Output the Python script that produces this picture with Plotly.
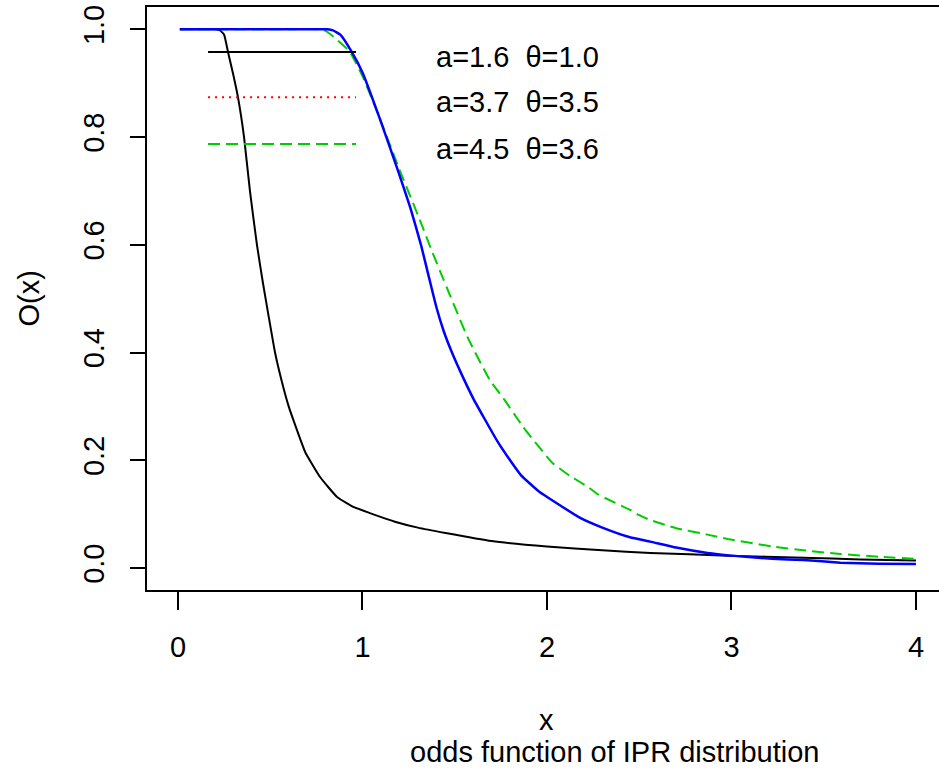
import plotly.graph_objects as go

# ---- data ----
black_x = [0.01, 0.1, 0.2, 0.228, 0.25, 0.271, 0.3, 0.325, 0.358, 0.39, 0.428, 0.46, 0.49, 0.526, 0.56,
           0.6, 0.645, 0.69, 0.77, 0.862, 0.954, 1.04, 1.176, 1.3, 1.45, 1.7, 2.0, 2.3, 2.56, 2.98, 3.39, 3.7, 4.0]
black_y = [1.0, 1.0, 1.0, 0.998, 0.99, 0.958, 0.915, 0.874, 0.80, 0.70, 0.60, 0.53, 0.47, 0.40, 0.35,
           0.30, 0.256, 0.215, 0.169, 0.132, 0.113, 0.102, 0.086, 0.075, 0.065, 0.05, 0.04, 0.033, 0.028, 0.023, 0.019, 0.016, 0.014]

blue_x = [0.01, 0.5, 0.81, 0.84, 0.88, 0.94, 1.0, 1.09, 1.19, 1.26, 1.317, 1.36, 1.40, 1.44, 1.485, 1.53, 1.6,
          1.66, 1.73, 1.80, 1.86, 1.96, 2.0, 2.18, 2.3, 2.45, 2.56, 2.7, 2.87, 3.0, 3.22, 3.39, 3.59, 3.8, 4.0]
blue_y = [1.0, 1.0, 1.0, 0.998, 0.99, 0.959, 0.92, 0.838, 0.74, 0.668, 0.60, 0.54, 0.485, 0.44, 0.40, 0.365, 0.315,
          0.278, 0.236, 0.20, 0.172, 0.141, 0.132, 0.093, 0.075, 0.057, 0.049, 0.038, 0.028, 0.023, 0.017, 0.015, 0.010, 0.008, 0.0074]

green_x = [0.01, 0.5, 0.77, 0.80, 0.84, 0.93, 1.0, 1.09, 1.2, 1.31, 1.38, 1.44, 1.47, 1.57, 1.69, 1.77, 1.84, 1.87,
           2.03, 2.12, 2.22, 2.28, 2.45, 2.5, 2.56, 2.7, 2.87, 2.98, 3.22, 3.39, 3.59, 3.8, 4.0]
green_y = [1.0, 1.0, 1.0, 0.997, 0.987, 0.959, 0.913, 0.838, 0.74, 0.647, 0.585, 0.535, 0.51, 0.428, 0.349, 0.312, 0.277, 0.262,
           0.195, 0.172, 0.151, 0.136, 0.108, 0.098, 0.089, 0.074, 0.062, 0.054, 0.040, 0.033, 0.026, 0.021, 0.017]

legend_labels = ["a=1.6  \u03b8=1.0", "a=3.7  \u03b8=3.5", "a=4.5  \u03b8=3.6"]
legend_colors = ["#000000", "#FF0000", "#00CD00"]
legend_dash = ["solid", "2px,5px", "12px,6px"]
legend_y = [0.958, 0.874, 0.787]

x_ticks = [0, 1, 2, 3, 4]
y_ticks = [0.0, 0.2, 0.4, 0.6, 0.8, 1.0]
y_ticktext = ["0.0", "0.2", "0.4", "0.6", "0.8", "1.0"]

FONT = "Liberation Sans, Arial, sans-serif"
FS = 29

fig = go.Figure()
fig.add_trace(go.Scatter(x=black_x, y=black_y, mode="lines",
                         line=dict(color="#000000", width=2, shape="spline", smoothing=0.4), showlegend=False))
fig.add_trace(go.Scatter(x=green_x, y=green_y, mode="lines",
                         line=dict(color="#00CD00", width=2, dash="12px,6px", shape="spline", smoothing=0.4),
                         showlegend=False))
fig.add_trace(go.Scatter(x=blue_x, y=blue_y, mode="lines",
                         line=dict(color="#0000FF", width=2.5, shape="spline", smoothing=0.4), showlegend=False))

# legend drawn R-style inside the plot
for lab, col, dsh, ly in zip(legend_labels, legend_colors, legend_dash, legend_y):
    fig.add_shape(type="line", xref="x", yref="y", x0=0.163, x1=0.965, y0=ly, y1=ly,
                  line=dict(color=col, width=2, dash=dsh))
    fig.add_annotation(xref="x", yref="y", x=1.39, y=ly, yshift=-5, text=lab.replace("  ", " \u00a0"),
                       showarrow=False, xanchor="left", yanchor="middle",
                       font=dict(family=FONT, size=FS, color="#000000"))

# axis titles
fig.add_annotation(xref="paper", yref="paper", x=0.5038, y=0, yshift=-130, text="x",
                   showarrow=False, xanchor="center", yanchor="middle",
                   font=dict(family=FONT, size=FS, color="#000000"))
fig.add_annotation(xref="paper", yref="paper", x=0.5038, xshift=68, y=0, yshift=-162,
                   text="odds function of IPR distribution",
                   showarrow=False, xanchor="center", yanchor="middle",
                   font=dict(family=FONT, size=FS, color="#000000"))
fig.add_annotation(xref="paper", yref="paper", x=0, xshift=-119, y=0.5, text="O(x)",
                   textangle=-90, showarrow=False, xanchor="center", yanchor="middle",
                   font=dict(family=FONT, size=FS, color="#000000"))

fig.update_layout(
    width=939, height=771,
    margin=dict(l=147, r=0, t=7, b=181),
    paper_bgcolor="white", plot_bgcolor="white",
    font=dict(family=FONT, size=FS, color="#000000"),
    xaxis=dict(range=[-0.168, 4.125], tickvals=x_ticks, ticktext=[str(v) for v in x_ticks],
               showgrid=False, zeroline=False, showline=True, linecolor="#000000", linewidth=2,
               mirror=True, ticks="outside", ticklen=18, tickwidth=1.5, tickcolor="#000000",
               ticklabelstandoff=12, tickfont=dict(family=FONT, size=FS, color="#000000")),
    yaxis=dict(range=[-0.0408, 1.0414], tickvals=y_ticks, ticktext=y_ticktext,
               showgrid=False, zeroline=False, showline=True, linecolor="#000000", linewidth=2,
               mirror=False, ticks="outside", ticklen=15, tickwidth=1.5, tickcolor="#000000",
               tickangle=-90, ticklabelstandoff=14,
               tickfont=dict(family=FONT, size=FS, color="#000000")),
)

fig.write_html("out.html", config={"displayModeBar": False},
               post_script="document.body.style.margin='0px';document.body.style.overflow='hidden';")
